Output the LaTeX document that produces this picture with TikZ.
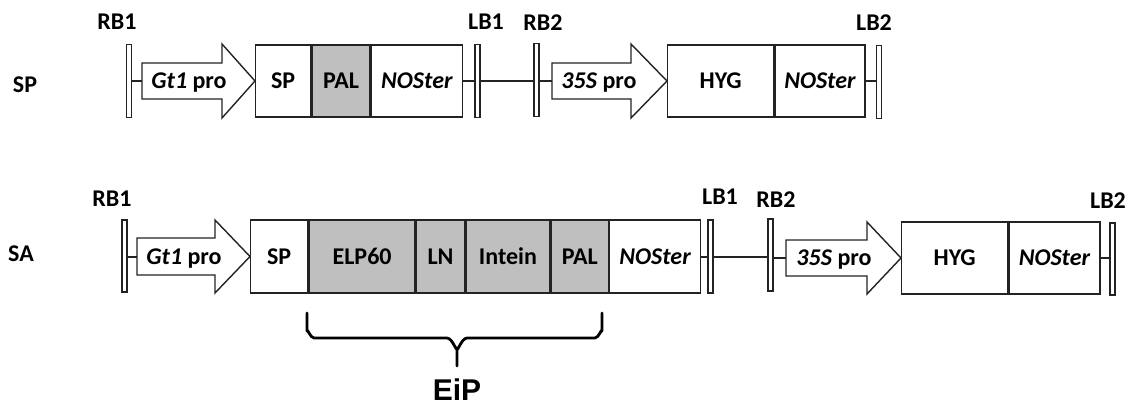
\documentclass[tikz,border=0pt]{standalone}
\usepackage{fontspec}
\setmainfont{Carlito}
\newfontfamily\arialfont{Liberation Sans}
\definecolor{fillgray}{RGB}{191,191,191}
\definecolor{linegray}{RGB}{35,35,35}
\begin{document}
\begin{tikzpicture}[x=1pt,y=-1pt,
  lbl/.style={font=\bfseries\fontsize{24}{28}\selectfont, inner sep=0, text=black},
  barbox/.style={draw=linegray, fill=white, line width=1.4pt, minimum width=5pt, minimum height=73pt, inner sep=0},
  seg/.style={draw=linegray, fill=white, line width=1.4pt, minimum height=72pt, inner sep=0, anchor=west, font=\bfseries\fontsize{24}{28}\selectfont},
  grayseg/.style={seg, fill=fillgray},
  arrowshape/.style={draw=linegray, fill=white, line width=1.4pt, line join=miter},
  conn/.style={draw=linegray, line width=2pt},
  bracepath/.style={draw=black, line width=2.8pt, line cap=round, line join=round}]
\useasboundingbox (0,0) rectangle (1125,405);

% ---------------- Row 1: SP ----------------
\node[lbl] (rowSP) at (25,85) {SP};
\node[lbl] (t1rb1) at (117,22) {RB1};
\node[barbox] (a1rb1) at (129,81) {};
\draw[arrowshape] (142,63) -- (222,63) -- (222,44) -- (255,81) -- (222,118) -- (222,99) -- (142,99) -- cycle;
\coordinate (a1tail) at (142,81);
\coordinate (a1tip) at (255,81);
\node[lbl] (a1txt) at (189,83) {\textit{Gt1} pro};
\node[seg, minimum width=55pt] (a1sp) at (a1tip) {SP};
\node[grayseg, minimum width=58pt] (a1pal) at (a1sp.east) {PAL};
\node[seg, minimum width=91pt] (a1nos) at (a1pal.east) {\textit{NOSter}};
\node[barbox] (a1lb1) at (477.5,81) {};
\node[lbl] (t1lb1) at (486,22) {LB1};
\node[barbox] (a1rb2) at (536.5,80) {};
\node[lbl] (t1rb2) at (543,23) {RB2};
\draw[arrowshape] (552,63) -- (631,63) -- (631,44) -- (667,81) -- (631,118) -- (631,99) -- (552,99) -- cycle;
\coordinate (a1tailb) at (552,81);
\coordinate (a1tipb) at (667,81);
\node[lbl] (a1txtb) at (599,83) {\textit{35S} pro};
\node[seg, minimum width=106pt] (a1hyg) at (a1tipb) {HYG};
\node[seg, minimum width=90pt] (a1nosb) at (a1hyg.east) {\textit{NOSter}};
\node[barbox] (a1lb2) at (879,82) {};
\node[lbl] (t1lb2) at (874,23) {LB2};

\draw[conn] (a1rb1.east |- a1tail) -- (a1tail);
\draw[conn] (a1nos.east) -- (a1lb1.west |- a1nos.east);
\draw[conn] (a1lb1.east |- a1nos.east) -- (a1rb2.west |- a1nos.east);
\draw[conn] (a1rb2.east |- a1tailb) -- (a1tailb);
\draw[conn] (a1nosb.east) -- (a1lb2.west |- a1nosb.east);

% ---------------- Row 2: SA ----------------
\node[lbl] (rowSA) at (21,254) {SA};
\node[lbl] (t2rb1) at (112,199) {RB1};
\node[barbox, minimum height=72pt] (a2rb1) at (124.5,256) {};
\draw[arrowshape] (137,238) -- (215,238) -- (215,220) -- (250,256.5) -- (215,293) -- (215,275) -- (137,275) -- cycle;
\coordinate (a2tail) at (137,256.5);
\coordinate (a2tip) at (250,256.5);
\node[lbl] (a2txt) at (184,259) {\textit{Gt1} pro};
\node[seg, minimum width=57pt, minimum height=73pt] (a2sp) at (a2tip) {SP};
\node[grayseg, minimum width=106pt, minimum height=73pt] (a2elp) at (a2sp.east) {ELP60};
\node[grayseg, minimum width=48pt, minimum height=73pt] (a2ln) at (a2elp.east) {LN};
\node[grayseg, minimum width=84pt, minimum height=73pt] (a2int) at (a2ln.east) {Intein};
\node[grayseg, minimum width=57pt, minimum height=73pt] (a2pal) at (a2int.east) {PAL};
\node[seg, minimum width=91pt, minimum height=73pt] (a2nos) at (a2pal.east) {\textit{NOSter}};
\node[barbox] (a2lb1) at (710.5,256.5) {};
\node[lbl] (t2lb1) at (720,197) {LB1};
\node[barbox, minimum height=72pt] (a2rb2) at (770.5,255) {};
\node[lbl] (t2rb2) at (776,200) {RB2};
\draw[arrowshape] (786,240) -- (867,240) -- (867,222) -- (901,258) -- (867,294) -- (867,276) -- (786,276) -- cycle;
\coordinate (a2tailb) at (786,258);
\coordinate (a2tipb) at (901,258);
\node[lbl] (a2txtb) at (834,260) {\textit{35S} pro};
\node[seg, minimum width=106pt, minimum height=72pt] (a2hyg) at (a2tipb) {HYG};
\node[seg, minimum width=91pt, minimum height=72pt] (a2nosb) at (a2hyg.east) {\textit{NOSter}};
\node[barbox, minimum height=72pt] (a2lb2) at (1112.5,259) {};
\node[lbl] (t2lb2) at (1108,201) {LB2};

\draw[conn] (a2rb1.east |- a2tail) -- (a2tail);
\draw[conn] (a2nos.east) -- (a2lb1.west |- a2nos.east);
\draw[conn] (a2lb1.east |- a2nos.east) -- (a2rb2.west |- a2nos.east);
\draw[conn] (a2rb2.east |- a2tailb) -- (a2tailb);
\draw[conn] (a2nosb.east) -- (a2lb2.west |- a2nosb.east);

% ---------------- Brace ----------------
\coordinate (brL) at (307,313);
\coordinate (brR) at (602,313);
\coordinate (brM) at (457,366);
\draw[bracepath] (brL) -- (307,331) to[out=90,in=180] (314,338) -- (447,338) to[out=0,in=270] (457,348) -- (brM);
\draw[bracepath] (brR) -- (602,331) to[out=90,in=0] (595,338) -- (467,338) to[out=180,in=270] (457,348);
\node[font=\arialfont\bfseries\fontsize{30}{34}\selectfont, inner sep=0] (eip) at (457,390) {EiP};
\end{tikzpicture}
\end{document}
